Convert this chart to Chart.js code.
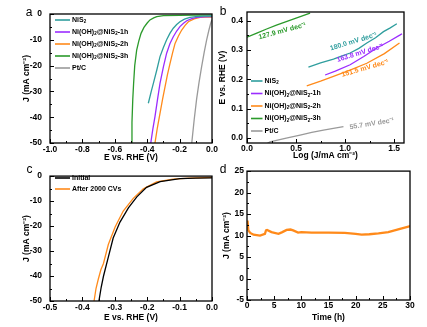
<!DOCTYPE html>
<html>
<head>
<meta charset="utf-8">
<script src="https://cdn.jsdelivr.net/npm/chart.js@4.4.0/dist/chart.umd.min.js"></script>
<style>
  body { margin: 0; background: #fff; }
  #wrap { position: relative; width: 427px; height: 327px; overflow: hidden; background: #fff; }
  canvas { position: absolute; }
</style>
</head>
<body>
<div id="wrap">
  <canvas id="cA" width="225" height="165" style="left:0;top:0"></canvas>
  <canvas id="cB" width="222" height="165" style="left:205px;top:0"></canvas>
  <canvas id="cC" width="225" height="164" style="left:0;top:163px"></canvas>
  <canvas id="cD" width="222" height="164" style="left:205px;top:163px"></canvas>
</div>
<script>
// ---- panel a: polarization curves (E vs RHE, J) ----
const seriesNames = ['NiS₂', 'Ni(OH)₂@NiS₂-1h', 'Ni(OH)₂@NiS₂-2h', 'Ni(OH)₂@NiS₂-3h', 'Pt/C'];
const seriesColors = ['#2f9e9e', '#9b2cff', '#ff8a1a', '#2b9a2b', '#9a9a9a'];

const eNiS2 = [-0.393, -0.375, -0.362, -0.34, -0.321, -0.30, -0.280, -0.26, -0.239, -0.218, -0.198, -0.17, -0.136, -0.10, -0.05, 0];
const jNiS2 = [-34.6, -30, -26.9, -21.5, -16.5, -13, -10, -7.5, -5.5, -4.1, -3.0, -2.0, -1.3, -1.0, -0.85, -0.8];
const e1h = [-0.378, -0.365, -0.352, -0.336, -0.321, -0.30, -0.280, -0.26, -0.239, -0.218, -0.198, -0.176, -0.156, -0.125, -0.093, -0.05, 0];
const j1h = [-50, -44.5, -39.8, -33, -26.9, -20.5, -15.2, -11.5, -8.8, -6.6, -4.9, -3.6, -2.6, -1.8, -1.3, -1.1, -1.0];
const e2h = [-0.352, -0.337, -0.321, -0.305, -0.290, -0.275, -0.259, -0.243, -0.228, -0.207, -0.187, -0.166, -0.146, -0.11, -0.074, -0.04, 0];
const j2h = [-50, -44, -38.5, -33, -28.2, -23.5, -19.1, -15, -11.4, -8.5, -6.2, -4.4, -3.0, -1.9, -1.3, -1.2, -1.2];
const e3h = [-0.497, -0.494, -0.489, -0.484, -0.477, -0.465, -0.452, -0.438, -0.42, -0.40, -0.383, -0.36, -0.341, -0.30, -0.2, -0.1, 0];
const j3h = [-50, -42, -33, -27, -20, -14, -10.5, -7.5, -5.2, -3.5, -2.3, -1.5, -1.0, -0.6, -0.5, -0.45, -0.4];
const ePtC = [-0.125, -0.11, -0.095, -0.08, -0.064, -0.048, -0.033, -0.02, -0.008, 0];
const jPtC = [-50, -41, -33, -26.5, -20.4, -14.8, -10, -6.5, -3.6, -2.2];

// ---- panel b: Tafel plots ----
const logNiS2 = [0.626, 0.75, 0.881, 0.97, 1.051, 1.14, 1.221, 1.31, 1.391, 1.46, 1.527];
const tafNiS2 = [0.242, 0.256, 0.269, 0.280, 0.290, 0.306, 0.324, 0.342, 0.363, 0.376, 0.390];
const log1h = [0.796, 0.9, 1.051, 1.19, 1.323, 1.45, 1.561, 1.58];
const taf1h = [0.215, 0.228, 0.250, 0.278, 0.307, 0.330, 0.352, 0.356];
const log2h = [0.609, 0.75, 0.881, 1.05, 1.221, 1.4, 1.554];
const taf2h = [0.178, 0.194, 0.210, 0.232, 0.255, 0.288, 0.324];
const log3h = [0, 0.1, 0.2, 0.3, 0.4, 0.5, 0.643];
const taf3h = [0.344, 0.358, 0.372, 0.385, 0.397, 0.409, 0.426];
const logPtC = [0.2, 0.235, 0.4, 0.541, 0.66, 0.779, 0.88, 0.983];
const tafPtC = [-0.02, -0.013, 0.0, 0.010, 0.019, 0.027, 0.033, 0.039];
const tafelSlopes = ['180.0 mV dec⁻¹', '163.8 mV dec⁻¹', '151.5 mV dec⁻¹', '127.9 mV dec⁻¹', '55.7 mV dec⁻¹'];

// ---- panel c: stability, initial vs after 2000 CVs ----
const cyclingNames = ['Initial', 'After 2000 CVs'];
const eInit = [-0.349, -0.342, -0.335, -0.320, -0.305, -0.284, -0.258, -0.232, -0.202, -0.160, -0.099, -0.05, 0];
const jInit = [-50, -44.5, -40.1, -32.4, -24.8, -18.4, -12.7, -8.3, -4.5, -2.2, -1.0, -0.8, -0.7];
const eCV = [-0.364, -0.358, -0.351, -0.343, -0.335, -0.320, -0.299, -0.274, -0.243, -0.212, -0.171, -0.12, -0.07, 0];
const jCV = [-50, -45, -41.3, -37.5, -35, -27.4, -20.4, -14, -8.9, -5.1, -2.3, -1.2, -0.8, -0.5];

// ---- panel d: chronoamperometry ----
const hours = [0, 0.1, 0.25, 0.6, 1.2, 2.4, 3.3, 3.5, 3.7, 4.5, 5.8, 6.5, 7.3, 8.0, 8.5, 9.4, 10, 11.9, 15, 18, 20, 21.1, 22.5, 24.2, 26, 28, 29.7, 30];
const current = [13.2, 13.5, 11.2, 10.6, 10.2, 10.0, 10.4, 11.2, 11.3, 10.8, 10.4, 10.8, 11.3, 11.4, 11.2, 10.7, 10.8, 10.7, 10.7, 10.6, 10.4, 10.2, 10.3, 10.5, 10.8, 11.5, 12.1, 12.2];

// tick labels
const ticksLsvX = [-1.0, -0.8, -0.6, -0.4, -0.2, 0.0];
const ticksJ = [0, -10, -20, -30, -40, -50];
const ticksLogX = [0.0, 0.5, 1.0, 1.5];
const ticksTafY = [0.0, 0.1, 0.2, 0.3, 0.4];
const ticksCvX = [-0.5, -0.4, -0.3, -0.2, -0.1, 0.0];
const ticksTime = [0, 5, 10, 15, 20, 25, 30];
const ticksCurrent = [-5, 0, 5, 10, 15, 20, 25];

const fam = "'Liberation Sans', Arial, Helvetica, sans-serif";
Chart.defaults.font.family = fam;
Chart.defaults.font.size = 8.5;
Chart.defaults.font.weight = 'bold';
Chart.defaults.color = '#000';

const pts = (xs, ys) => xs.map((x, i) => ({ x: x, y: ys[i] }));

// text with small lowered "2" for the ₂ subscripts
function drawSub(ctx, text, x, y, size) {
  const parts = text.split('₂');
  parts.forEach((p, i) => {
    ctx.font = 'bold ' + size + 'px ' + fam;
    ctx.fillText(p, x, y);
    x += ctx.measureText(p).width;
    if (i < parts.length - 1) {
      ctx.font = 'bold ' + (size * 0.65) + 'px ' + fam;
      ctx.fillText('2', x, y + size * 0.3);
      x += ctx.measureText('2').width;
    }
  });
}

// frame, inward tick marks and the panel letter
const boxTicks = {
  id: 'boxTicks',
  afterDatasetsDraw(chart, args, o) {
    if (!o.minorX) return;
    const { ctx, chartArea: a, scales: { x, y } } = chart;
    ctx.save();
    ctx.strokeStyle = '#000';
    const mark = (scale, vals, len) => {
      vals.forEach(v => {
        const p = Math.round(scale.getPixelForValue(v)) + 0.5;
        ctx.beginPath();
        if (scale.isHorizontal()) { ctx.moveTo(p, a.bottom); ctx.lineTo(p, a.bottom - len); }
        else { ctx.moveTo(a.left, p); ctx.lineTo(a.left + len, p); }
        ctx.stroke();
      });
    };
    const steps = (scale, step) => {
      const out = [];
      const n0 = Math.ceil(scale.min / step - 1e-6);
      for (let i = n0; i * step <= scale.max + 1e-9; i++) out.push(i * step);
      return out;
    };
    ctx.lineWidth = 1;
    mark(x, steps(x, o.minorX), 2);
    mark(y, steps(y, o.minorY), 2);
    mark(x, x.ticks.map(t => t.value), 4);
    mark(y, y.ticks.map(t => t.value), 4);
    ctx.lineWidth = 1.3;
    ctx.strokeRect(a.left, a.top, a.right - a.left, a.bottom - a.top);
    ctx.fillStyle = '#000';
    ctx.font = '12px ' + fam;
    ctx.textAlign = 'center';
    ctx.textBaseline = 'middle';
    ctx.fillText(o.letter, o.lx, o.ly);
    ctx.restore();
  }
};

// legend drawn inside the plot
const insideLegend = {
  id: 'insideLegend',
  afterDraw(chart, args, o) {
    if (o.x === undefined) return;
    const ctx = chart.ctx;
    ctx.save();
    ctx.textBaseline = 'middle';
    ctx.textAlign = 'left';
    chart.data.datasets.forEach((ds, i) => {
      const yy = o.y + i * o.gap;
      ctx.strokeStyle = ds.borderColor;
      ctx.lineWidth = 1.6;
      ctx.beginPath();
      ctx.moveTo(o.x, yy);
      ctx.lineTo(o.x + o.len, yy);
      ctx.stroke();
      ctx.fillStyle = '#000';
      drawSub(ctx, ds.label, o.x + o.len + 2, yy, 7);
    });
    ctx.restore();
  }
};

// slope labels along the Tafel lines
const slopeNotes = {
  id: 'slopeNotes',
  afterDraw(chart, args, o) {
    if (!o.items) return;
    const { ctx, scales: { x, y } } = chart;
    ctx.save();
    ctx.font = 'bold 7px ' + fam;
    ctx.textAlign = 'center';
    ctx.textBaseline = 'middle';
    o.items.forEach(n => {
      ctx.save();
      ctx.translate(x.getPixelForValue(n.x), y.getPixelForValue(n.y));
      ctx.rotate(n.angle * Math.PI / 180);
      ctx.fillStyle = n.color;
      ctx.fillText(n.text, 0, 0);
      ctx.restore();
    });
    ctx.restore();
  }
};

Chart.register(boxTicks, insideLegend, slopeNotes);

function axis(o) {
  const left = o.pos === 'left';
  return {
    type: 'linear', position: o.pos, min: o.min, max: o.max,
    grid: { display: false, drawTicks: false },
    border: { display: false },
    ticks: { padding: o.pad, autoSkip: false, maxRotation: 0, callback: v => v.toFixed(o.dec) },
    afterBuildTicks: s => { s.ticks = o.ticks.map(v => ({ value: v })); },
    afterFit: s => { if (left) s.width = o.size; else s.height = o.size; },
    title: {
      display: true, text: o.title, font: { size: 8.5, weight: 'bold' },
      padding: left ? { top: o.tpad, bottom: 0 } : { top: 0, bottom: o.tpad }
    }
  };
}

function line(label, data, color, width) {
  return { label: label, data: data, borderColor: color, borderWidth: width || 1.3, pointRadius: 0, tension: 0, fill: false };
}

function makeChart(id, datasets, scales, pad, plugins) {
  return new Chart(document.getElementById(id), {
    type: 'line',
    data: { datasets: datasets },
    options: {
      responsive: false,
      animation: false,
      layout: { padding: pad },
      scales: scales,
      plugins: Object.assign({ legend: { display: false }, tooltip: { enabled: false } }, plugins)
    }
  });
}

// a
makeChart('cA', [
  line(seriesNames[0], pts(eNiS2, jNiS2), seriesColors[0]),
  line(seriesNames[1], pts(e1h, j1h), seriesColors[1]),
  line(seriesNames[2], pts(e2h, j2h), seriesColors[2]),
  line(seriesNames[3], pts(e3h, j3h), seriesColors[3]),
  line(seriesNames[4], pts(ePtC, jPtC), seriesColors[4])
], {
  x: axis({ pos: 'bottom', min: -1.0, max: 0, ticks: ticksLsvX, dec: 1, pad: 2, size: 22, title: 'E vs. RHE (V)', tpad: 2 }),
  y: axis({ pos: 'left', min: -50, max: 0, ticks: ticksJ, dec: 0, pad: 8, size: 50, title: 'J (mA cm⁻²)', tpad: 22 })
}, { top: 14, right: 13, left: 0, bottom: 0 }, {
  boxTicks: { minorX: 0.1, minorY: 5, letter: 'a', lx: 29, ly: 13 },
  insideLegend: { x: 55, y: 20, gap: 12, len: 15 }
});

// b
makeChart('cB', [
  line(seriesNames[0], pts(logNiS2, tafNiS2), seriesColors[0]),
  line(seriesNames[1], pts(log1h, taf1h), seriesColors[1]),
  line(seriesNames[2], pts(log2h, taf2h), seriesColors[2]),
  line(seriesNames[3], pts(log3h, taf3h), seriesColors[3]),
  line(seriesNames[4], pts(logPtC, tafPtC), seriesColors[4])
], {
  x: axis({ pos: 'bottom', min: 0, max: 1.6, ticks: ticksLogX, dec: 1, pad: 1, size: 22, title: 'Log (J/mA cm⁻²)', tpad: 4.2 }),
  y: axis({ pos: 'left', min: -0.017, max: 0.43, ticks: ticksTafY, dec: 1, pad: 4, size: 42, title: 'E vs. RHE (V)', tpad: 13 })
}, { top: 12, right: 23, left: 0, bottom: 0 }, {
  boxTicks: { minorX: 0.25, minorY: 0.05, letter: 'b', lx: 18, ly: 12 },
  insideLegend: { x: 46, y: 81, gap: 12.5, len: 11.5 },
  slopeNotes: { items: [
    { text: tafelSlopes[0], x: 1.085, y: 0.329, angle: -17, color: seriesColors[0] },
    { text: tafelSlopes[1], x: 1.153, y: 0.290, angle: -17, color: seriesColors[1] },
    { text: tafelSlopes[2], x: 1.204, y: 0.238, angle: -16, color: seriesColors[2] },
    { text: tafelSlopes[3], x: 0.36, y: 0.365, angle: -15, color: seriesColors[3] },
    { text: tafelSlopes[4], x: 1.272, y: 0.0485, angle: -9, color: seriesColors[4] }
  ] }
});

// c
makeChart('cC', [
  line(cyclingNames[0], pts(eInit, jInit), '#000000'),
  line(cyclingNames[1], pts(eCV, jCV), seriesColors[2])
], {
  x: axis({ pos: 'bottom', min: -0.5, max: 0, ticks: ticksCvX, dec: 1, pad: 2, size: 26, title: 'E vs. RHE (V)', tpad: 4 }),
  y: axis({ pos: 'left', min: -50, max: 0, ticks: ticksJ, dec: 0, pad: 8, size: 50, title: 'J (mA cm⁻²)', tpad: 22 })
}, { top: 7, right: 13, left: 0, bottom: 0 }, {
  boxTicks: { minorX: 0.05, minorY: 5, letter: 'c', lx: 29.5, ly: 7 },
  insideLegend: { x: 55, y: 15, gap: 11, len: 15 }
});

// d
makeChart('cD', [
  line('J', pts(hours, current), seriesColors[2], 2.3)
], {
  x: axis({ pos: 'bottom', min: 0, max: 30, ticks: ticksTime, dec: 0, pad: 1, size: 27, title: 'Time (h)', tpad: 4 }),
  y: axis({ pos: 'left', min: -5, max: 25, ticks: ticksCurrent, dec: 0, pad: 3, size: 42, title: 'J (mA cm⁻²)', tpad: 16.7 })
}, { top: 7, right: 17, left: 0, bottom: 0 }, {
  boxTicks: { minorX: 2.5, minorY: 2.5, letter: 'd', lx: 18, ly: 7 }
});
</script>
</body>
</html>
